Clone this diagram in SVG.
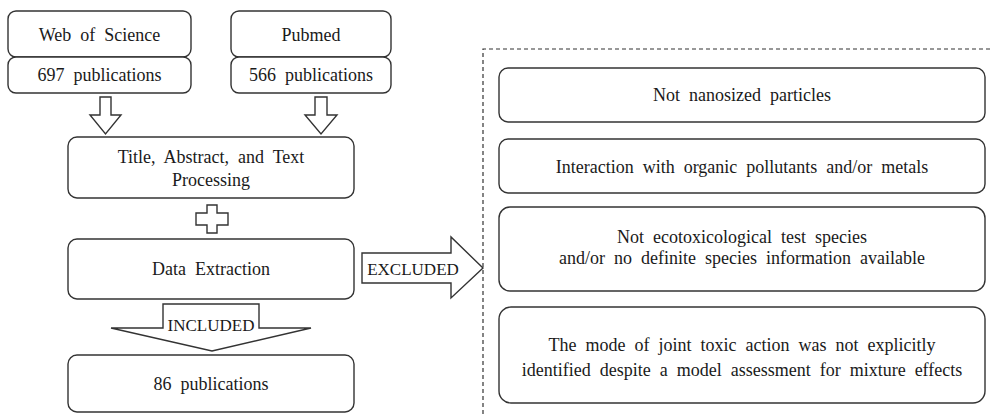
<svg xmlns="http://www.w3.org/2000/svg" width="993" height="414" viewBox="0 0 993 414">
<style>
.box{fill:#fff;stroke:#333;stroke-width:1.4}
.arr{fill:#fff;stroke:#333;stroke-width:1.4;stroke-linejoin:miter}
text{font-family:"Liberation Serif","Times New Roman",serif;font-size:18px;word-spacing:4.5px;fill:#1a1a1a;text-anchor:middle}
.s{font-size:17px;word-spacing:0}
</style>
<rect width="993" height="414" fill="#fff"/>
<g id="wos">
<rect class="box" x="8" y="11" width="183" height="46" rx="8"/>
<text x="99.5" y="41">Web of Science</text>
</g>
<g id="wos-count">
<rect class="box" x="8" y="57" width="183" height="36" rx="8"/>
<text x="99.5" y="81">697 publications</text>
</g>
<g id="pubmed">
<rect class="box" x="231" y="11" width="160" height="46" rx="8"/>
<text x="311" y="41">Pubmed</text>
</g>
<g id="pubmed-count">
<rect class="box" x="231" y="57" width="160" height="36" rx="8"/>
<text x="311" y="81">566 publications</text>
</g>
<g id="screening">
<rect class="box" x="68" y="137" width="286" height="61" rx="9"/>
<text x="211" y="163">Title, Abstract, and Text</text>
<text x="211" y="186">Processing</text>
</g>
<g id="extraction">
<rect class="box" x="68" y="239" width="286" height="60" rx="9"/>
<text x="211" y="275">Data Extraction</text>
</g>
<g id="result">
<rect class="box" x="68" y="355" width="286" height="57" rx="9"/>
<text x="211" y="390">86 publications</text>
</g>
<g id="excluded-panel">
<path d="M483,414 V49 H993" fill="none" stroke="#333" stroke-width="1.2" stroke-dasharray="4,3"/>
</g>
<g id="ex1">
<rect class="box" x="499" y="68" width="486" height="54" rx="9"/>
<text x="742" y="101">Not nanosized particles</text>
</g>
<g id="ex2">
<rect class="box" x="499" y="139" width="486" height="54" rx="9"/>
<text x="742" y="173">Interaction with organic pollutants and/or metals</text>
</g>
<g id="ex3">
<rect class="box" x="499" y="207" width="486" height="84" rx="11"/>
<text x="742" y="243">Not ecotoxicological test species</text>
<text x="742" y="264">and/or no definite species information available</text>
</g>
<g id="ex4">
<rect class="box" x="499" y="307" width="486" height="96" rx="12"/>
<text x="742" y="351">The mode of joint toxic action was not explicitly</text>
<text x="742" y="376">identified despite a model assessment for mixture effects</text>
</g>
<g id="connectors">
<polygon class="arr" points="100,97 111,97 111,115 121,115 105.5,134 90,115 100,115"/>
<polygon class="arr" points="315,97 327,97 327,115 337,115 321,134 305,115 315,115"/>
<polygon class="arr" points="207,205 217,205 217,213 228,213 228,225 217,225 217,233 207,233 207,225 196,225 196,213 207,213"/>
<polygon class="arr" points="362,253 451,253 451,237 483,268 451,298 451,283 362,283"/>
<text class="s" x="413" y="275">EXCLUDED</text>
<polygon class="arr" points="163,304 259,304 259,328 311,328 212,351 111,328 163,328"/>
<text class="s" x="211" y="331">INCLUDED</text>
</g>
</svg>
